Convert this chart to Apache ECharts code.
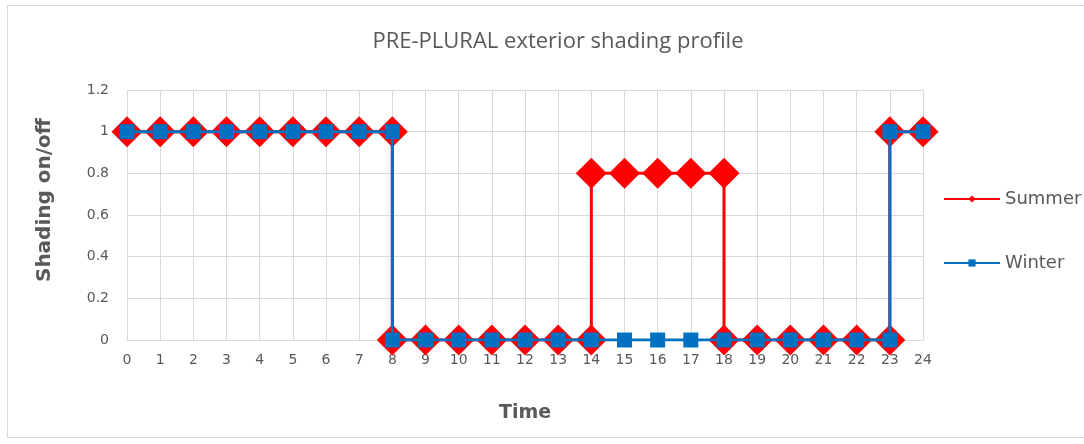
<!DOCTYPE html>
<html>
<head>
<meta charset="utf-8">
<style>
  html, body { margin: 0; padding: 0; background: #fff; }
  #frame { position: absolute; left: 7px; top: 5px; width: 1090px; height: 433px; border: 1px solid #d9d9d9; box-sizing: border-box; }
  #chart { position: absolute; left: 0; top: 0; width: 1084px; height: 444px; }
</style>
<script src="https://cdn.jsdelivr.net/npm/echarts@6/dist/echarts.min.js"></script>
</head>
<body>
<div id="frame"></div>
<div id="chart"></div>
<script>
// Hour of day for each point; repeated hours mark the on/off switch moments
const summerHours = [0, 1, 2, 3, 4, 5, 6, 7, 8, 8, 9, 10, 11, 12, 13, 14, 14, 15, 16, 17, 18, 18, 19, 20, 21, 22, 23, 23, 24];
const summerValues = [1, 1, 1, 1, 1, 1, 1, 1, 1, 0, 0, 0, 0, 0, 0, 0, 0.8, 0.8, 0.8, 0.8, 0.8, 0, 0, 0, 0, 0, 0, 1, 1];

const winterHours = [0, 1, 2, 3, 4, 5, 6, 7, 8, 8, 9, 10, 11, 12, 13, 14, 15, 16, 17, 18, 19, 20, 21, 22, 23, 23, 24];
const winterValues = [1, 1, 1, 1, 1, 1, 1, 1, 1, 0, 0, 0, 0, 0, 0, 0, 0, 0, 0, 0, 0, 0, 0, 0, 0, 1, 1];

const pairs = (xs, ys) => xs.map((x, i) => [x, ys[i]]);

const TITLE_FONT = '"Open Sans", sans-serif';
const FONT = '"DejaVu Sans", sans-serif';
const TEXT = '#595959';
const GRID = '#d9d9d9';

const chart = echarts.init(document.getElementById('chart'), null, { renderer: 'canvas' });
chart.setOption({
  animation: false,
  backgroundColor: 'transparent',
  title: {
    text: 'PRE-PLURAL exterior shading profile',
    left: 553, top: 26, textAlign: 'center',
    textStyle: { fontFamily: TITLE_FONT, fontSize: 22, fontWeight: 'normal', color: TEXT }
  },
  legend: {
    orient: 'vertical',
    left: 938, top: 185,
    itemWidth: 56, itemHeight: 9, itemGap: 46,
    textStyle: { fontFamily: FONT, fontSize: 18, color: TEXT },
    data: ['Summer', 'Winter']
  },
  // vertical axis title, placed a little above the plot's midline
  graphic: [{
    type: 'text',
    x: 45, y: 200,
    rotation: Math.PI / 2,
    style: {
      text: 'Shading on/off',
      fontFamily: FONT, fontSize: 20, fontWeight: 'bold', fill: TEXT,
      align: 'center', verticalAlign: 'middle'
    }
  }],
  grid: { left: 127, right: 161, top: 90, bottom: 104, containLabel: false },
  xAxis: {
    type: 'value', min: 0, max: 24, interval: 1,
    name: 'Time', nameLocation: 'middle', nameGap: 64,
    nameTextStyle: { fontFamily: FONT, fontSize: 19, fontWeight: 'bold', color: TEXT },
    axisLine: { show: true, lineStyle: { color: GRID, width: 1 } },
    axisTick: { show: false },
    axisLabel: { fontFamily: FONT, fontSize: 14, color: TEXT, margin: 13 },
    splitLine: { show: true, lineStyle: { color: GRID, width: 1 } }
  },
  yAxis: {
    type: 'value', min: 0, max: 1.2, interval: 0.2,
    axisLine: { show: true, lineStyle: { color: GRID, width: 1 } },
    axisTick: { show: false },
    axisLabel: {
      fontFamily: FONT, fontSize: 14, color: TEXT, margin: 18,
      formatter: v => String(Math.round(v * 10) / 10)
    },
    splitLine: { show: true, lineStyle: { color: GRID, width: 1 } }
  },
  series: [
    {
      name: 'Summer', type: 'line',
      data: pairs(summerHours, summerValues),
      symbol: 'diamond', symbolSize: 31,
      itemStyle: { color: '#ff0000' },
      lineStyle: { color: '#ff0000', width: 3 },
      z: 2
    },
    {
      name: 'Winter', type: 'line',
      data: pairs(winterHours, winterValues),
      symbol: 'rect', symbolSize: 15,
      itemStyle: { color: '#0070c0' },
      lineStyle: { color: '#0070c0', width: 3 },
      z: 3
    }
  ]
});
</script>
</body>
</html>
